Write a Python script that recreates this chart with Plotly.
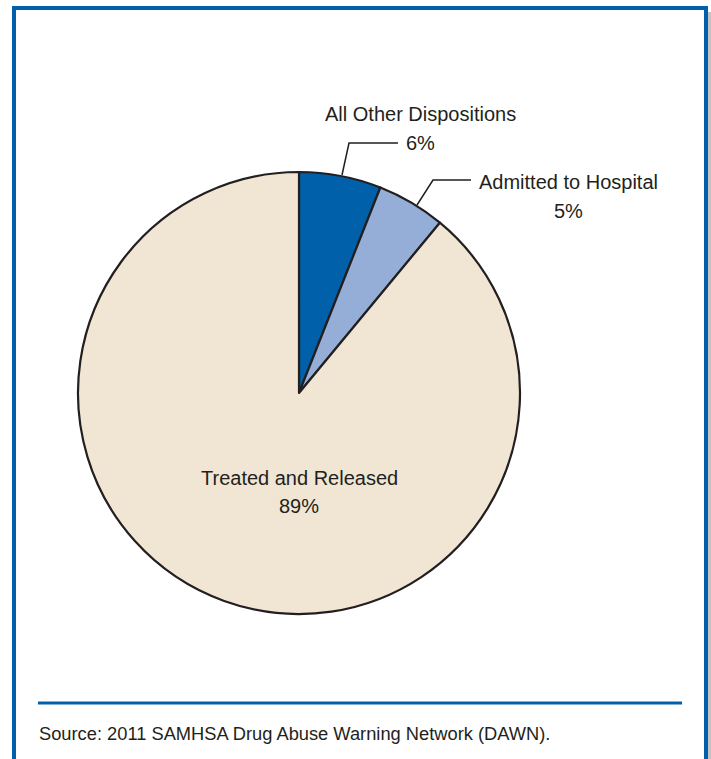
import plotly.graph_objects as go

W, H = 711, 759

labels = ["All Other Dispositions", "Admitted to Hospital", "Treated and Released"]
values = [6, 5, 89]
pct_text = ["6%", "5%", "89%"]
colors = ["#0060A9", "#94AED7", "#F1E6D3"]
source = "Source: 2011 SAMHSA Drug Abuse Warning Network (DAWN)."

def px(x):
    return x / W

def py(y):
    return 1 - y / H

cx, cy, r = 299, 393, 221

fig = go.Figure(go.Pie(
    labels=labels, values=values, sort=False, direction="clockwise", rotation=0,
    marker=dict(colors=colors, line=dict(color="#231F20", width=2.2)),
    textinfo="none", hoverinfo="label+percent", showlegend=False,
    domain=dict(x=[px(cx - r), px(cx + r)], y=[py(cy + r), py(cy - r)]),
))

lab_font = dict(family="Liberation Sans, Arial, sans-serif", size=20, color="#231F20")
ann = [
    (labels[0], pct_text[0], 420, 114, 143),
    (labels[1], pct_text[1], 568, 182, 211),
    (labels[2], pct_text[2], 299, 478, 506),
]
annotations = []
for name, pct, x, y1, y2 in ann:
    for t, yy in ((name, y1), (pct, y2)):
        annotations.append(dict(text=t, x=px(x), y=py(yy), xref="paper", yref="paper",
                                showarrow=False, xanchor="center", yanchor="middle",
                                font=lab_font))
annotations.append(dict(text=source, x=px(37), y=py(733), xref="paper", yref="paper",
                        showarrow=False, xanchor="left", yanchor="middle",
                        font=dict(family="Liberation Sans, Arial, sans-serif", size=18.3, color="#231F20")))

line_col = "#231F20"
shapes = [
    dict(type="path", xref="paper", yref="paper",
         path=f"M {px(342)} {py(175)} L {px(349)} {py(143)} L {px(398)} {py(143)}",
         line=dict(color=line_col, width=1.5)),
    dict(type="path", xref="paper", yref="paper",
         path=f"M {px(417)} {py(205)} L {px(433)} {py(180)} L {px(471)} {py(180)}",
         line=dict(color=line_col, width=1.5)),
    # frame
    dict(type="line", xref="paper", yref="paper", x0=px(12), x1=px(708), y0=py(8), y1=py(8),
         line=dict(color="#0060A9", width=4)),
    dict(type="line", xref="paper", yref="paper", x0=px(14), x1=px(14), y0=py(6), y1=py(762),
         line=dict(color="#0060A9", width=4)),
    dict(type="line", xref="paper", yref="paper", x0=px(706), x1=px(706), y0=py(6), y1=py(762),
         line=dict(color="#0060A9", width=4)),
    dict(type="line", xref="paper", yref="paper", x0=px(709.5), x1=px(709.5), y0=py(12), y1=py(762),
         line=dict(color="#C4C4C4", width=3)),
    # separator
    dict(type="line", xref="paper", yref="paper", x0=px(38), x1=px(682), y0=py(703), y1=py(703),
         line=dict(color="#0060A9", width=3)),
]

fig.update_layout(width=W, height=H, margin=dict(l=0, r=0, t=0, b=0),
                  paper_bgcolor="white", plot_bgcolor="white",
                  annotations=annotations, shapes=shapes)

fig.write_html("out.html", config={"displayModeBar": False},
               post_script="document.body.style.margin='0px';document.body.style.overflow='hidden';")
